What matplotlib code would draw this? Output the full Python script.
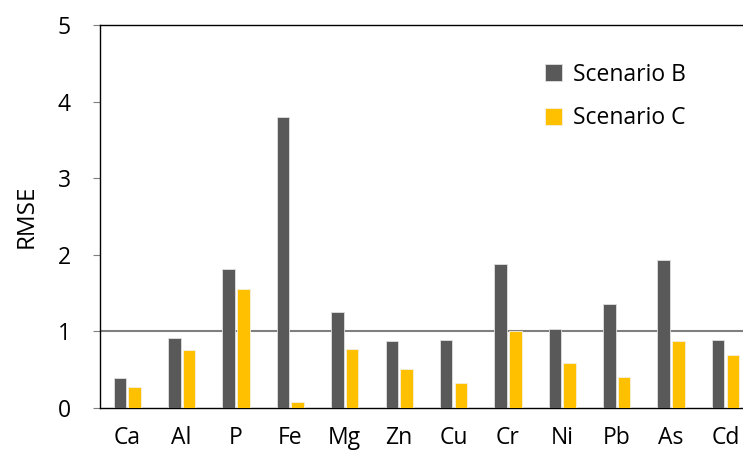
import numpy as np
import matplotlib
matplotlib.use("Agg")
import matplotlib.pyplot as plt

plt.rcParams["font.family"] = ["Open Sans", "DejaVu Sans"]

elements = ["Ca", "Al", "P", "Fe", "Mg", "Zn", "Cu", "Cr", "Ni", "Pb", "As", "Cd"]
scenario_b = [0.39, 0.92, 1.82, 3.80, 1.25, 0.87, 0.89, 1.88, 1.03, 1.36, 1.93, 0.89]
scenario_c = [0.28, 0.76, 1.56, 0.08, 0.77, 0.51, 0.33, 1.00, 0.59, 0.40, 0.88, 0.69]

fig = plt.figure(figsize=(7.43, 4.51), dpi=100)
ax = fig.add_axes([0.1346, 0.0953, 0.8784, 0.8493])

x = np.arange(len(elements))
w = 0.23
ax.bar(x - w / 2 - 0.02, scenario_b, w, color="#595959", edgecolor="#e0e0e0",
       linewidth=0.6, label="Scenario B", zorder=3)
ax.bar(x + w / 2 + 0.02, scenario_c, w, color="#FFC000", edgecolor="#f5f0e0",
       linewidth=0.6, label="Scenario C", zorder=3)

ax.axhline(1, color="#7f7f7f", linewidth=1.5, zorder=2)

ax.set_xlim(-0.5, len(elements) - 0.5)
ax.set_ylim(0, 5)
ax.set_yticks([0, 1, 2, 3, 4, 5])
ax.set_xticks(x)
ax.set_xticklabels(elements)
ax.tick_params(axis="x", length=0, pad=13, labelsize=16.5)
ax.tick_params(axis="y", length=5, width=0.8, color="#7f7f7f", pad=16, labelsize=16.5)
ax.set_ylabel("RMSE", fontsize=17.5, labelpad=14)

for s in ax.spines.values():
    s.set_linewidth(1.0)
    s.set_color("black")

ax.legend(loc="upper right", bbox_to_anchor=(0.93, 0.955), frameon=False,
          fontsize=16.5, handlelength=0.75, handleheight=0.75, handletextpad=0.5,
          labelspacing=0.85)

fig.savefig("out.png", dpi=100)
